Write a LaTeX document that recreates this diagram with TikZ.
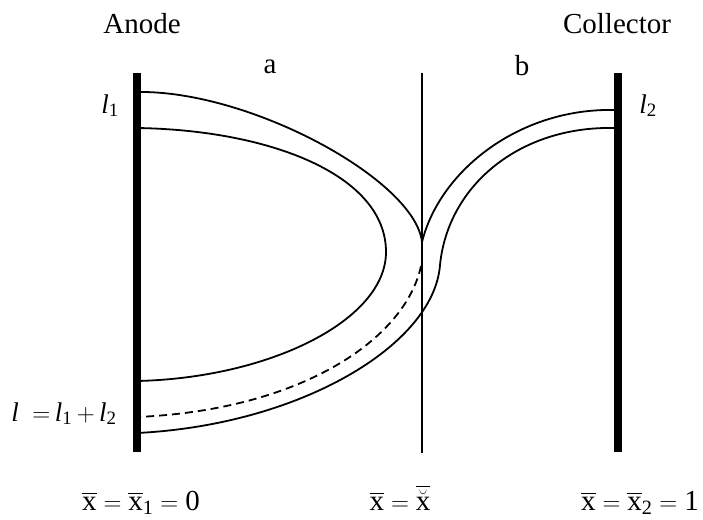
\documentclass[tikz,border=0pt]{standalone}
\usepackage{amsmath}
\usepackage{fontspec}
\setmainfont{Liberation Serif}
\newcommand{\xbr}{\overline{\mbox{x}}}
\newcommand{\lsub}[1]{\textit{l}\textsubscript{#1}}
\begin{document}
\begin{tikzpicture}[x=1pt,y=-1pt,
  curve/.style={line width=1.8pt},
  bar/.style={line width=8pt},
  mid/.style={line width=2pt},
  lbl/.style={font=\fontsize{29}{32}\selectfont, inner sep=0pt, anchor=base},
  slbl/.style={font=\fontsize{27}{30}\selectfont, inner sep=0pt, anchor=base}]
\useasboundingbox (0,0) rectangle (703,519);
% electrodes
\coordinate (anT) at (137,73); \coordinate (anB) at (137,452);
\coordinate (coT) at (618,73); \coordinate (coB) at (618,452);
\coordinate (miT) at (422,73); \coordinate (miB) at (422,453);
\draw[bar] (anT) -- (anB);
\draw[bar] (coT) -- (coB);
\draw[mid] (miT) -- (miB);
% key points
\coordinate (o1) at (137,92);
\coordinate (i1) at (137,128);
\coordinate (i2) at (137,381);
\coordinate (d2) at (137,417);
\coordinate (b2) at (137,433);
\coordinate (cusp) at (422,242);
\coordinate (r1) at (614,110);
\coordinate (r2) at (614,128);
\coordinate (imax) at (386,252);
\coordinate (dtop) at (421,266);
\coordinate (s1) at (440,265);
% outer loop + upper right arc meeting at cusp
\draw[curve] (o1) .. controls (250,90) and (415,180) .. (cusp)
                  .. controls (440,170) and (520,108) .. (r1);
% inner loop
\draw[curve] (i1) .. controls (270,130) and (386,175) .. (imax)
                  .. controls (386,320) and (270,378) .. (i2);
% dashed continuation
\draw[curve,dash pattern=on 8pt off 5pt] (dtop) .. controls (405,340) and (300,410) .. (d2);
% lower right arc down to anode bottom
\draw[curve] (r2) .. controls (520,126) and (448,185) .. (s1)
                  .. controls (434,345) and (300,425) .. (b2);
% labels
\node[lbl] (anode) at (142,34) {Anode};
\node[lbl] (coll) at (617,34) {Collector};
\node[lbl] (la) at (270,74) {a};
\node[lbl] (lb) at (522,75) {b};
\node[slbl] (l1) at (110,113) {\lsub{1}};
\node[slbl] (l2) at (648,113) {\lsub{2}};
\node[slbl] (lsum) at (64,421) {\textit{l}\ \ $=$\,\lsub{1}\,$+$\,\lsub{2}};
\node[lbl] (x0) at (141,510) {$\xbr=\xbr_{\text{1}}=\mbox{0}$};
\node[lbl] (xm) at (400,510) {$\xbr=\overline{\breve{\mbox{x}}}$};
\node[lbl] (x1) at (640,510) {$\xbr=\xbr_{\text{2}}=\mbox{1}$};
\end{tikzpicture}
\end{document}
